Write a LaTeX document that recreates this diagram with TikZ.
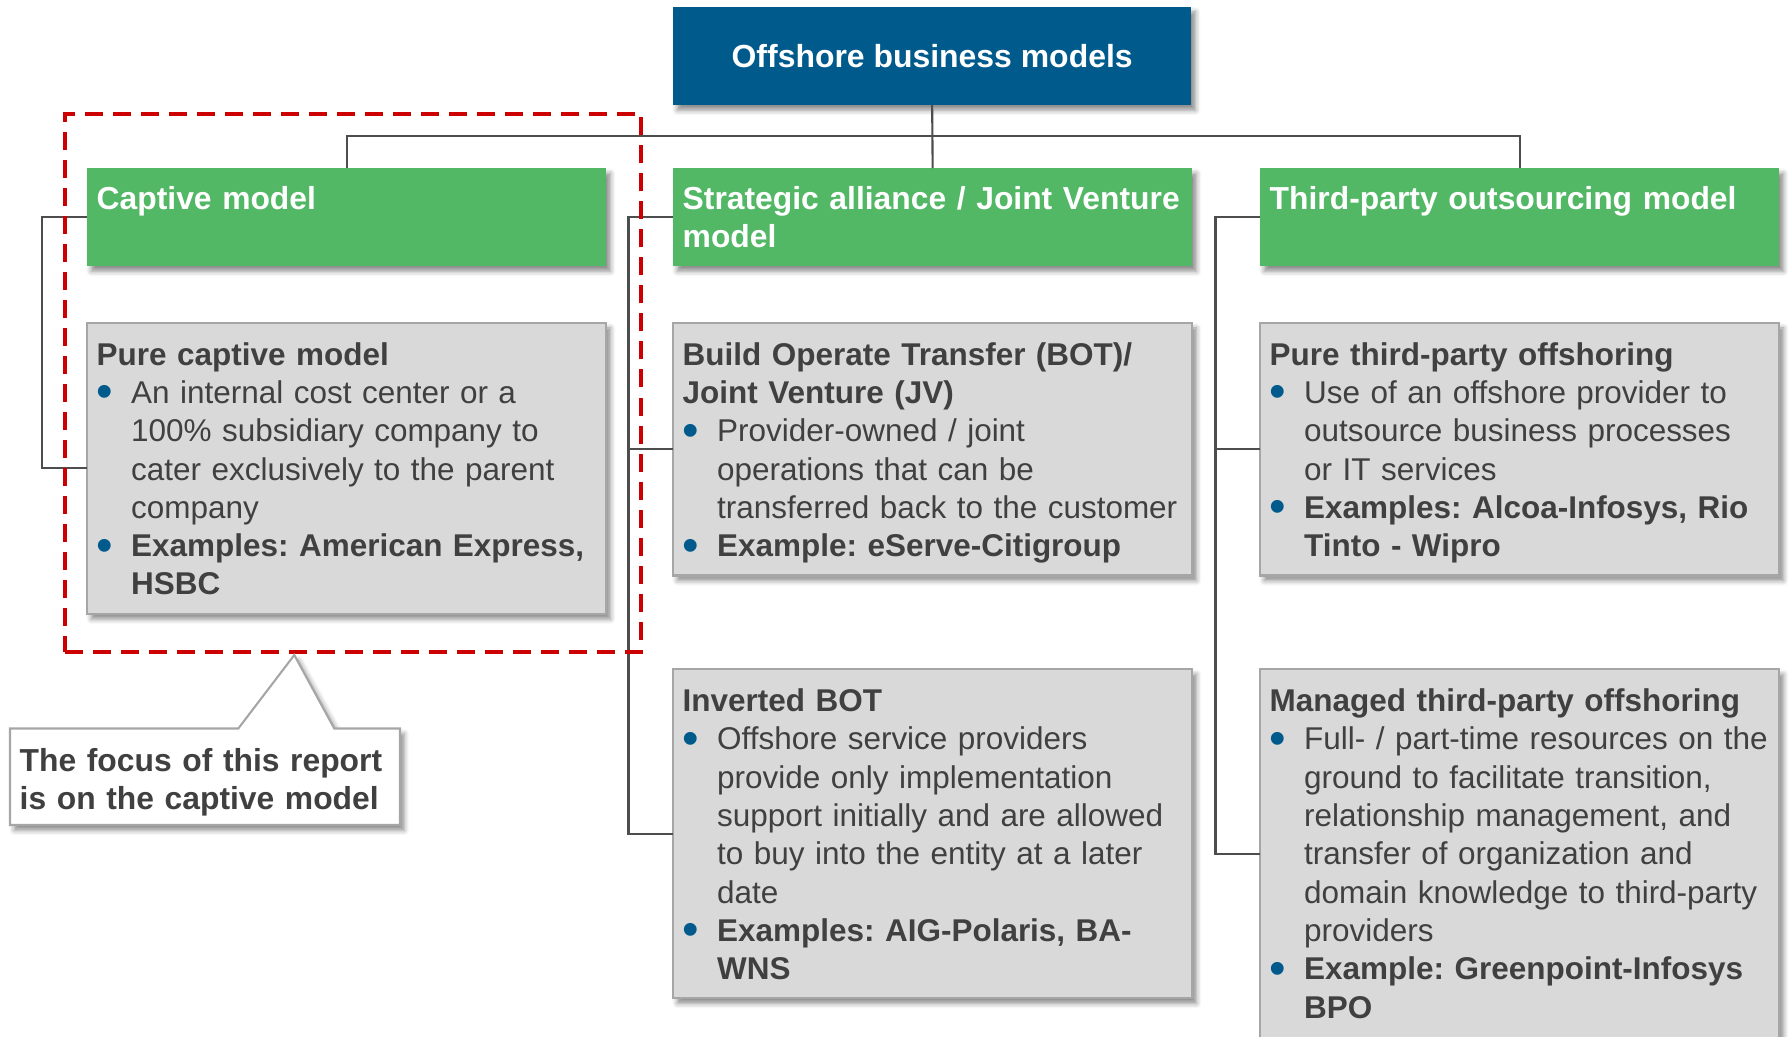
\documentclass[tikz,border=0pt]{standalone}
\usepackage{fontspec}
\setmainfont{Liberation Sans}
\usetikzlibrary{shadows.blur}

\definecolor{titleblue}{HTML}{005A8C}
\definecolor{boxgreen}{HTML}{52B866}
\definecolor{boxgray}{HTML}{D9D9D9}
\definecolor{boxedge}{HTML}{A6A6A6}
\definecolor{textgray}{HTML}{404040}
\definecolor{linegray}{HTML}{4D4D4D}
\definecolor{framered}{HTML}{CC0000}

% bullet line with hanging indent
\newcommand\dotitem{\par\noindent\hangindent=9.8pt\hangafter=1\makebox[9.8pt][l]{\raisebox{-0.14em}{\scalebox{1.5}{\textcolor{titleblue}{\textbullet}}}}}

\begin{document}
\begin{tikzpicture}[x=0.01cm, y=-0.01cm,
    shade/.style={blur shadow={shadow xshift=1.2pt, shadow yshift=-1.5pt, shadow blur radius=1.4pt, shadow opacity=45}},
    titlebox/.style={anchor=north west, fill=titleblue, minimum width=5.18cm, minimum height=0.983cm, inner sep=0pt, outer sep=0pt, shade},
    headbox/.style={anchor=north west, fill=boxgreen, minimum width=5.19cm, minimum height=0.98cm, inner sep=0pt, outer sep=0pt, shade},
    itembox/.style={anchor=north west, fill=boxgray, draw=boxedge, line width=0.6pt, minimum width=5.19cm, inner sep=0pt, outer sep=0pt, shade},
    headtext/.style={anchor=base west, inner sep=0pt, text width=5.3cm, align=left, text=white, font=\bfseries\fontsize{9.05}{10.9}\selectfont},
    bodytext/.style={anchor=base west, inner sep=0pt, text width=5.3cm, align=left, text=textgray, font=\frenchspacing\fontsize{8.95}{10.9}\selectfont},
    link/.style={draw=linegray, line width=0.6pt},
    focusframe/.style={anchor=north west, draw=framered, line width=1.15pt, dash pattern=on 0.18cm off 0.1cm, minimum width=5.76cm, minimum height=5.376cm, inner sep=0pt}]

    \useasboundingbox (0,0) rectangle (1791,1036);

    % Top box
    \node[titlebox, text=white, font=\bfseries\fontsize{9.08}{10.9}\selectfont] (offshore) at (673,6.7) {Offshore business models};

    % Model headers
    \node[headbox] (captive) at (87,168) {};
    \node[headbox] (strategic) at (673,168) {};
    \node[headbox] (third) at (1260,168) {};
    \node[headtext] (captivetext) at (96,209.5) {Captive model};
    \node[headtext] (strategictext) at (682,209.5) {Strategic alliance / Joint Venture\\model};
    \node[headtext] (thirdtext) at (1269,209.5) {Third-party outsourcing model};

    % Detail boxes
    \node[itembox, minimum height=2.91cm] (purecaptive) at (87,322.7) {};
    \node[itembox, minimum height=2.526cm] (bot) at (673,322.7) {};
    \node[itembox, minimum height=2.526cm] (purethird) at (1260,322.7) {};
    \node[itembox, minimum height=3.29cm] (inverted) at (673,669) {};
    \node[itembox, minimum height=3.69cm] (managed) at (1260,669) {};

    \node[bodytext] (purecaptivetext) at (96,365) {\textbf{Pure captive model}
        \dotitem An internal cost center or a\newline 100\% subsidiary company to\newline cater exclusively to the parent\newline company
        \dotitem \textbf{Examples: American Express,\newline HSBC}\par};
    \node[bodytext] (bottext) at (682,365) {\textbf{Build Operate Transfer (BOT)/\newline Joint Venture (JV)}
        \dotitem Provider-owned / joint\newline operations that can be\newline transferred back to the customer
        \dotitem \textbf{Example: eServe-Citigroup}\par};
    \node[bodytext] (purethirdtext) at (1269,365) {\textbf{Pure third-party offshoring}
        \dotitem Use of an offshore provider to\newline outsource business processes\newline or IT services
        \dotitem \textbf{Examples: Alcoa-Infosys, Rio\newline Tinto - Wipro}\par};
    \node[bodytext] (invertedtext) at (682,711.5) {\textbf{Inverted BOT}
        \dotitem Offshore service providers\newline provide only implementation\newline support initially and are allowed\newline to buy into the entity at a later\newline date
        \dotitem \textbf{Examples: AIG-Polaris, BA-\newline WNS}\par};
    \node[bodytext] (managedtext) at (1269,711.5) {\textbf{Managed third-party offshoring}
        \dotitem Full- / part-time resources on the\newline ground to facilitate transition,\newline relationship management, and\newline transfer of organization and\newline domain knowledge to third-party\newline providers
        \dotitem \textbf{Example: Greenpoint-Infosys\newline BPO}\par};

    % Tree connectors
    \draw[link] (captive.north) -- ++(0,-32) -| (third.north);
    \draw[link] (offshore.south) -- (strategic.north);

    % Side brackets
    \draw[link] (captive.west) -- ++(-45,0) |- (purecaptive.west);
    \draw[link] (strategic.west) -- ++(-44.5,0) |- (inverted.west);
    \draw[link] (strategic.west) ++(-44.5,0) |- (bot.west);
    \draw[link] (third.west) -- ++(-44.5,0) |- (managed.west);
    \draw[link] (third.west) ++(-44.5,0) |- (purethird.west);

    % Focus frame and note
    \node[focusframe] (focus) at (63,111.7) {};
    \draw[fill=white, draw=boxedge, line width=0.6pt, shade]
        (10,728.5) -- (238.3,728.5) -- (294.3,655) -- (334.3,728.5) -- (400,728.5)
        -- (400,825) -- (10,825) -- cycle;
    \node[bodytext, font=\bfseries\fontsize{9.05}{10.9}\selectfont] (focusnote) at (19,771.5) {The focus of this report\\is on the captive model};
\end{tikzpicture}
\end{document}
